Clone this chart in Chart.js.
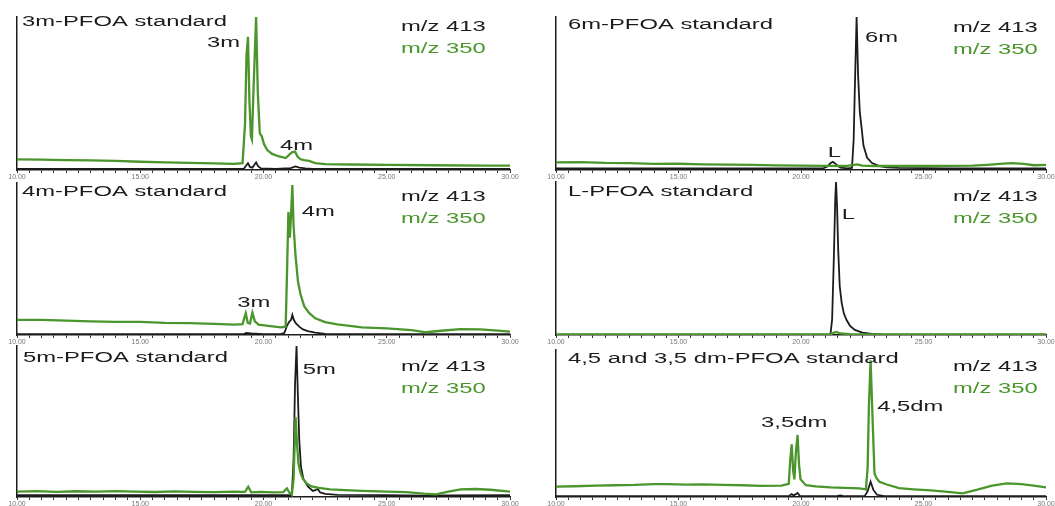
<!DOCTYPE html>
<html>
<head>
<meta charset="utf-8">
<script src="https://cdn.jsdelivr.net/npm/chart.js@4.4.0/dist/chart.umd.min.js"></script>
<style>
body { margin:0; width:1055px; height:506px; overflow:hidden; background:#fff; position:relative; }
canvas { position:absolute; }
</style>
</head>
<body>
<canvas id="p3m"></canvas>
<canvas id="p6m"></canvas>
<canvas id="p4m"></canvas>
<canvas id="pL"></canvas>
<canvas id="p5m"></canvas>
<canvas id="pdm"></canvas>
<script>
// retention time (min) and relative intensity (% of panel height)

// 3m-PFOA
var t3mGreen = [10, 11, 12, 13, 14, 15, 16, 17, 18, 18.8, 19.15, 19.25, 19.31, 19.37, 19.43, 19.49, 19.53, 19.6, 19.7, 19.77, 19.85, 19.93, 20.02, 20.15, 20.35, 20.6, 20.9, 21.05, 21.15, 21.28, 21.38, 21.5, 21.65, 21.85, 22.1, 22.5, 23.5, 25, 27, 29, 30];
var v3mGreen = [7.0, 6.8, 6.5, 6.3, 6.0, 5.4, 5.0, 4.7, 4.3, 4.0, 4.5, 30, 75, 87, 45, 22, 20, 55, 100, 50, 24, 22, 17, 13, 10.5, 9, 7.8, 10, 11.5, 12, 8.8, 7, 6.5, 6, 4.5, 3.9, 3.6, 3.3, 3.1, 2.9, 2.8];
var t3mBlack = [10, 15, 19.2, 19.3, 19.37, 19.45, 19.55, 19.63, 19.7, 19.78, 19.9, 20.5, 21.1, 21.3, 21.45, 21.7, 22, 25, 30];
var v3mBlack = [0.8, 0.8, 0.8, 3, 4.5, 2, 1.5, 3.5, 5, 2.5, 1.0, 0.8, 1.2, 2.3, 1.5, 1.0, 0.8, 0.7, 0.7];

// 6m-PFOA
var t6mGreen = [10, 11, 12, 13, 14, 15, 16, 17, 18, 19, 20, 21, 21.8, 22.1, 22.3, 22.5, 23, 24, 25, 26, 27, 27.6, 28.1, 28.6, 29.1, 29.5, 30];
var v6mGreen = [5.0, 5.1, 4.6, 4.5, 4.0, 4.1, 3.7, 3.5, 3.4, 3.0, 2.9, 2.7, 2.6, 3.2, 3.7, 2.9, 2.6, 2.6, 2.6, 2.7, 2.8, 3.4, 4.0, 4.5, 4.0, 3.1, 3.3];
var t6mBlack = [10, 15, 20, 20.9, 21.1, 21.2, 21.3, 21.45, 21.6, 21.9, 22.08, 22.15, 22.2, 22.27, 22.33, 22.4, 22.47, 22.55, 22.7, 22.9, 23.2, 23.5, 24, 26, 30];
var v6mBlack = [1.0, 1.0, 1.0, 1.0, 2.5, 4.5, 5.3, 3.5, 1.5, 1.1, 1.3, 20, 55, 100, 62, 38, 28, 16, 8, 4.5, 2.5, 1.8, 1.4, 1.1, 1.0];

// 4m-PFOA
var t4mGreen = [10, 11, 12, 13, 14, 15, 16, 17, 18, 18.8, 19.15, 19.28, 19.36, 19.45, 19.55, 19.65, 19.8, 20.2, 20.7, 20.9, 20.96, 21.01, 21.07, 21.12, 21.17, 21.22, 21.3, 21.4, 21.5, 21.65, 21.85, 22.1, 22.5, 23, 24, 25, 26, 26.6, 27.2, 28, 28.8, 29.5, 30];
var v4mGreen = [9.9, 10.0, 9.4, 9.0, 8.6, 8.6, 8.0, 7.8, 7.3, 6.8, 7.2, 14.3, 8, 7.5, 14.7, 9, 6.8, 6.0, 5.0, 5.5, 45, 81, 64, 80, 98.7, 72, 52, 35, 27, 19, 14.5, 11, 8.5, 7, 5, 4.3, 3.2, 1.8, 2.8, 3.9, 3.7, 2.9, 2.2];
var t4mBlack = [10, 15, 19.2, 19.3, 19.5, 20, 20.7, 20.85, 20.95, 21.05, 21.12, 21.17, 21.23, 21.3, 21.45, 21.6, 21.8, 22.1, 22.5, 24, 27, 30];
var v4mBlack = [0.6, 0.6, 0.6, 1.3, 1.0, 0.6, 0.6, 1.5, 6, 8.8, 10, 13.2, 10, 8, 5.5, 3.7, 2.5, 1.5, 0.8, 0.6, 0.6, 0.6];

// L-PFOA
var tLGreen = [10, 15, 20, 21.2, 21.35, 21.45, 21.6, 22, 25, 30];
var vLGreen = [0.4, 0.4, 0.4, 0.4, 1.6, 2.0, 1.0, 0.5, 0.4, 0.4];
var tLBlack = [10, 15, 20, 21.2, 21.27, 21.34, 21.4, 21.43, 21.47, 21.52, 21.58, 21.66, 21.75, 21.86, 22.0, 22.2, 22.5, 22.9, 23.3, 25, 30];
var vLBlack = [0.3, 0.3, 0.3, 0.3, 10, 50, 90, 100, 85, 55, 32, 21, 14, 9.8, 6, 3.3, 1.5, 0.8, 0.4, 0.3, 0.3];

// 5m-PFOA
var t5mGreen = [10, 10.8, 11.6, 12.4, 13.2, 14, 14.8, 15.6, 16.4, 17.2, 18, 18.8, 19.25, 19.38, 19.5, 19.9, 20.4, 20.8, 20.95, 21.05, 21.15, 21.22, 21.3, 21.36, 21.42, 21.5, 21.6, 21.75, 21.95, 22.25, 22.7, 23.3, 24, 25, 25.8, 26.5, 27, 27.5, 28, 28.6, 29.2, 30];
var v5mGreen = [3.5, 3.9, 3.4, 3.8, 3.5, 3.9, 3.6, 3.3, 3.7, 3.4, 3.2, 3.6, 3.4, 6.8, 3.1, 3.4, 3.0, 3.2, 5.7, 3.0, 1.5, 12, 53, 35, 22, 16, 12, 9, 7, 6, 5, 4.6, 4.0, 3.5, 3.2, 2.2, 1.8, 3.5, 5.0, 5.3, 4.8, 3.6];
var t5mBlack = [10, 15, 20, 20.9, 21.15, 21.22, 21.28, 21.34, 21.39, 21.45, 21.52, 21.62, 21.8, 22.0, 22.1, 22.2, 22.3, 22.5, 23, 25, 26.5, 27.5, 30];
var v5mBlack = [1.2, 1.2, 1.2, 1.2, 1.3, 25, 75, 100, 70, 38, 20, 12, 7, 4, 4.5, 5.3, 3, 2, 1.4, 1.2, 0.9, 1.1, 1.2];

// 4,5 and 3,5 dm-PFOA
var tdmGreen = [10, 10.8, 11.6, 12.4, 13.2, 14, 14.6, 15.3, 16, 16.8, 17.6, 18.4, 19.2, 19.5, 19.56, 19.62, 19.68, 19.73, 19.79, 19.86, 19.92, 19.98, 20.2, 20.6, 21.2, 21.8, 22.4, 22.65, 22.72, 22.77, 22.84, 22.92, 23.0, 23.08, 23.2, 23.5, 24, 24.6, 25.3, 26, 26.6, 27.2, 27.8, 28.4, 29, 29.5, 30];
var vdmGreen = [7.0, 7.3, 7.8, 8.0, 8.2, 8.7, 8.8, 8.4, 8.6, 8.3, 8.0, 7.6, 7.8, 9, 25, 35.8, 18, 12, 30, 42.2, 22, 12, 8, 7.2, 6.5, 6.2, 5.8, 5.2, 20, 61, 93, 54, 16, 13, 10.4, 8.5, 6, 5.2, 4.5, 3.5, 2.5, 5, 7.8, 9.3, 8.8, 7.8, 6.6];
var tdmBlack = [10, 15, 19.5, 19.62, 19.7, 19.86, 19.95, 20.5, 21.4, 21.6, 21.8, 22.6, 22.72, 22.84, 22.95, 23.1, 23.4, 25, 30];
var vdmBlack = [0.5, 0.5, 0.5, 2.0, 1.0, 2.8, 0.8, 0.5, 0.5, 1.1, 0.5, 0.6, 4, 10.4, 5, 1.5, 0.6, 0.5, 0.5];

var GREEN = '#4a962c';
var INK = '#1c1c1c';
var STRETCH = 1.7;
var PAD_TOP = 12;

// top = y of the plot's upper edge on the page
var panels = [
  { id: 'p3m', left: 0, top: 17, plotH: 153, width: 530, pl: 17, pr: 20,
    title: '3m-PFOA standard', tx: 5, ty: 5, lx: 384, ly: 10,
    tg: t3mGreen, vg: v3mGreen, tk: t3mBlack, vk: v3mBlack,
    peaks: [['3m', 17.71, 83], ['4m', 20.67, 15.7]] },
  { id: 'p6m', left: 530, top: 17, plotH: 153, width: 525, pl: 26, pr: 9,
    title: '6m-PFOA standard', tx: 12, ty: 8, lx: 397, ly: 11,
    tg: t6mGreen, vg: v6mGreen, tk: t6mBlack, vk: v6mBlack,
    peaks: [['6m', 22.61, 86], ['L', 21.09, 10.9]] },
  { id: 'p4m', left: 0, top: 183, plotH: 152, width: 530, pl: 17, pr: 20,
    title: '4m-PFOA standard', tx: 5, ty: 9, lx: 384, ly: 14,
    tg: t4mGreen, vg: v4mGreen, tk: t4mBlack, vk: v4mBlack,
    peaks: [['3m', 18.94, 20.9], ['4m', 21.55, 81]] },
  { id: 'pL', left: 530, top: 182, plotH: 153, width: 525, pl: 26, pr: 9,
    title: 'L-PFOA standard', tx: 12, ty: 10, lx: 397, ly: 15,
    tg: tLGreen, vg: vLGreen, tk: tLBlack, vk: vLBlack,
    peaks: [['L', 21.66, 78.4]] },
  { id: 'p5m', left: 0, top: 346, plotH: 151, width: 530, pl: 17, pr: 20,
    title: '5m-PFOA standard', tx: 6, ty: 12, lx: 384, ly: 21,
    tg: t5mGreen, vg: v5mGreen, tk: t5mBlack, vk: v5mBlack,
    peaks: [['5m', 21.59, 84]] },
  { id: 'pdm', left: 530, top: 350, plotH: 147, width: 525, pl: 26, pr: 9,
    title: '4,5 and 3,5 dm-PFOA standard', tx: 12, ty: 9, lx: 397, ly: 17,
    tg: tdmGreen, vg: vdmGreen, tk: tdmBlack, vk: vdmBlack,
    peaks: [['3,5dm', 18.37, 50], ['4,5dm', 23.11, 61.4]] }
];

function pts(ts, vs) {
  return ts.map(function (t, i) { return { x: t, y: vs[i] }; });
}

function stretchText(ctx, text, x, y, color) {
  ctx.save();
  ctx.translate(x, y);
  ctx.scale(STRETCH, 1);
  ctx.fillStyle = color;
  ctx.textBaseline = 'middle';
  ctx.textAlign = 'left';
  ctx.font = '14px "Liberation Sans", Arial, sans-serif';
  ctx.fillText(text, 0, 0);
  ctx.restore();
}

var notesPlugin = {
  id: 'notes',
  afterDatasetsDraw: function (chart) {
    var p = chart.options.plugins.notes;
    var ctx = chart.ctx, a = chart.chartArea;
    var xs = chart.scales.x, ys = chart.scales.y;
    stretchText(ctx, p.title, a.left + p.tx, a.top + p.ty, INK);
    stretchText(ctx, 'm/z 413', a.left + p.lx, a.top + p.ly, INK);
    stretchText(ctx, 'm/z 350', a.left + p.lx, a.top + p.ly + 22, GREEN);
    p.peaks.forEach(function (k) {
      stretchText(ctx, k[0], xs.getPixelForValue(k[1]), ys.getPixelForValue(k[2]), INK);
    });
  }
};

panels.forEach(function (p) {
  var cv = document.getElementById(p.id);
  cv.width = p.width;
  cv.height = p.plotH + PAD_TOP + 12;
  cv.style.left = p.left + 'px';
  cv.style.top = (p.top - PAD_TOP) + 'px';
  new Chart(cv, {
    type: 'line',
    data: {
      datasets: [
        { label: 'm/z 350', data: pts(p.tg, p.vg), borderColor: GREEN, borderWidth: 2.3, pointRadius: 0, tension: 0 },
        { label: 'm/z 413', data: pts(p.tk, p.vk), borderColor: INK, borderWidth: 1.8, pointRadius: 0, tension: 0 }
      ]
    },
    options: {
      responsive: false,
      animation: false,
      layout: { padding: { left: p.pl, right: p.pr, top: PAD_TOP, bottom: 0 } },
      scales: {
        x: {
          type: 'linear', min: 10, max: 30,
          afterFit: function (s) { s.height = 12; },
          border: { display: true, color: INK, width: 1.5 },
          grid: { drawOnChartArea: false, tickLength: 3, color: '#333', lineWidth: 1 },
          ticks: {
            stepSize: 0.5, autoSkip: false, maxRotation: 0, padding: 0,
            color: '#777', font: { size: 7, family: '"Liberation Sans", Arial, sans-serif' },
            callback: function (v) { return v % 5 === 0 ? v.toFixed(2) : ''; }
          }
        },
        y: {
          min: 0, max: 100,
          afterFit: function (s) { s.width = 0; },
          border: { display: true, color: INK, width: 1.5 },
          grid: { display: false },
          ticks: { display: false }
        }
      },
      plugins: {
        legend: { display: false },
        tooltip: { enabled: false },
        notes: p
      }
    },
    plugins: [notesPlugin]
  });
});
</script>
</body>
</html>
